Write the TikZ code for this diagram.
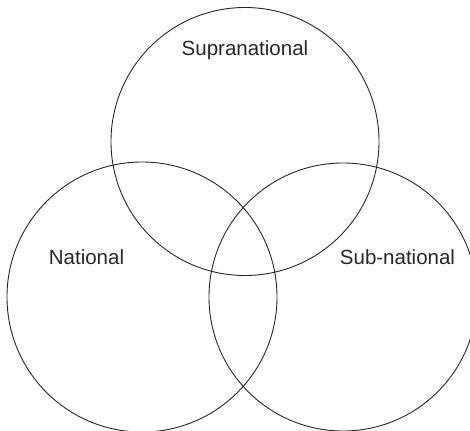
\documentclass[tikz,border=0pt]{standalone}
\usepackage{fontspec}
\setmainfont{Liberation Sans}
\begin{document}
\begin{tikzpicture}[x=1pt,y=-1pt,
  ring/.style={draw=black!85,line width=0.9pt},
  lbl/.style={font=\fontsize{20.5}{24}\selectfont,text=black!85,inner sep=0pt}]
\useasboundingbox (0,0) rectangle (470,430);
\clip (0,0) rectangle (470,430);
\draw[ring] (245,141.5) circle[radius=134];
\draw[ring] (142,297) circle[radius=135];
\draw[ring] (343,297) circle[radius=134];
\node[lbl] (supra) at (245,50) {Supranational};
\node[lbl] (nat) at (86.5,257) {National};
\node[lbl] (sub) at (397.5,257) {Sub-national};
\end{tikzpicture}
\end{document}
